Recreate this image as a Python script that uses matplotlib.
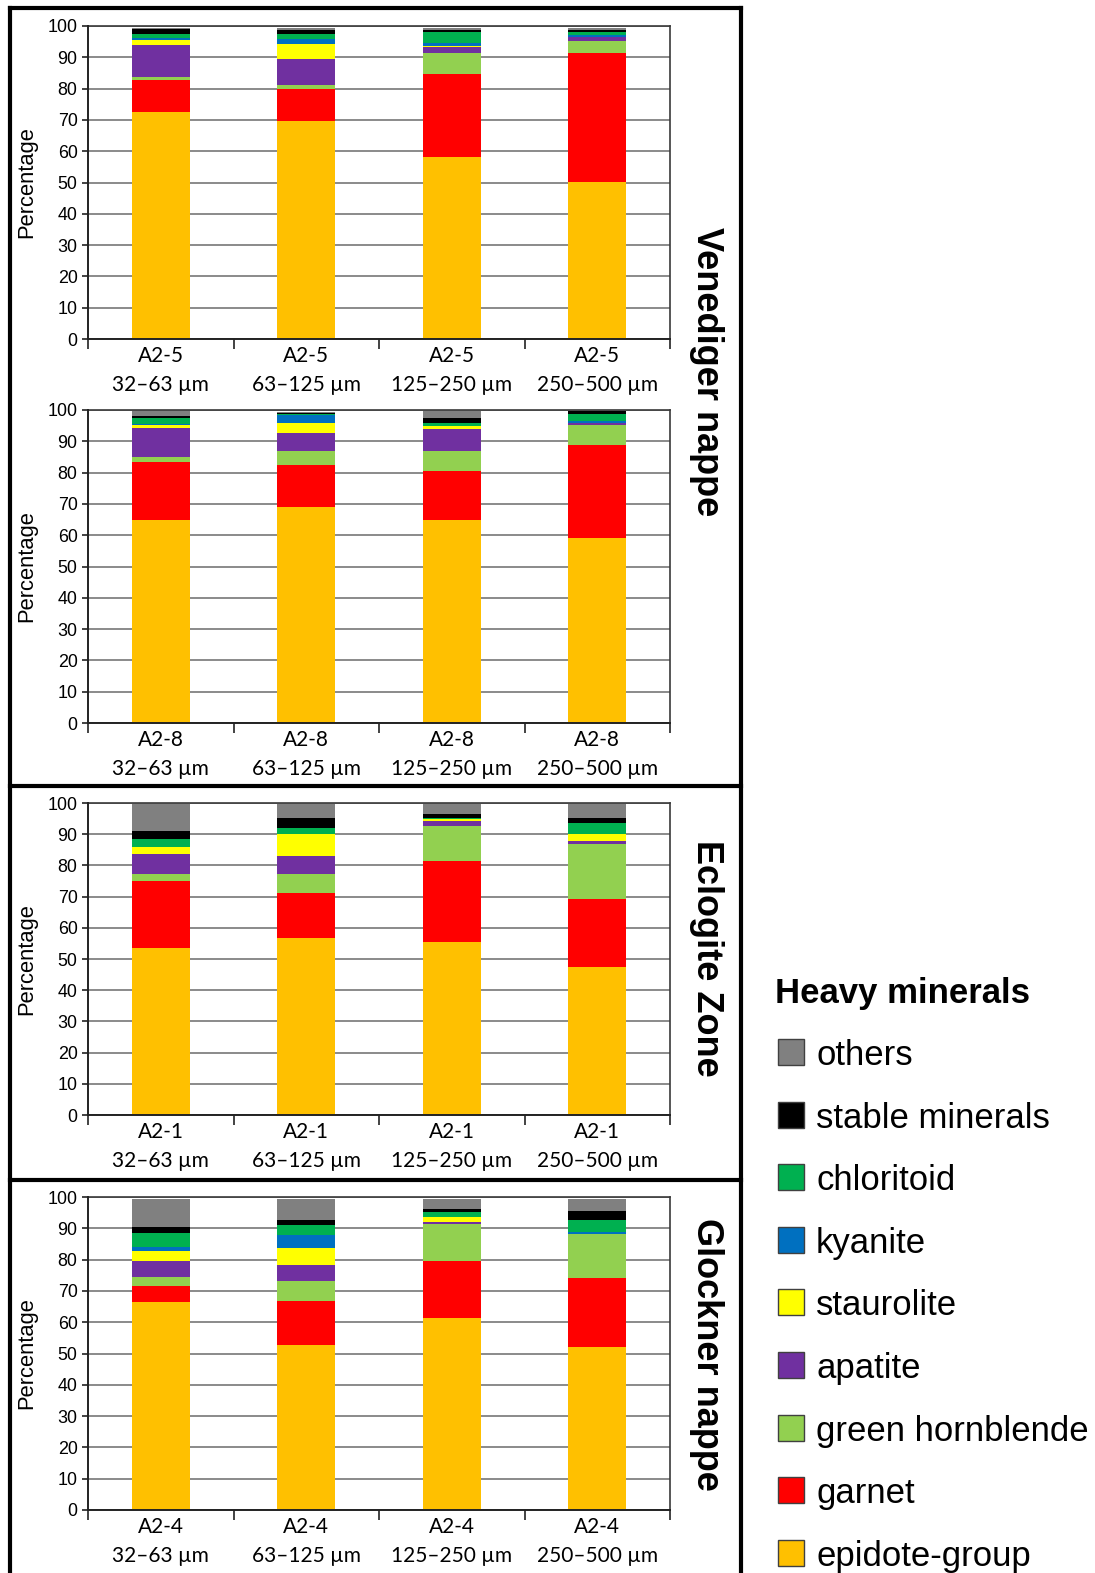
import matplotlib
matplotlib.use("Agg")
import matplotlib.pyplot as plt
from matplotlib.patches import Rectangle
from matplotlib.lines import Line2D
import numpy as np

W, H, DPI = 1095, 1573, 100

# ---- data -----------------------------------------------------------------
samples = ["A2-5", "A2-8", "A2-1", "A2-4"]
fractions = ["32–63 µm", "63–125 µm", "125–250 µm", "250–500 µm"]

# stacked from bottom to top; 16 values = 4 samples x 4 grain-size fractions
minerals = ["epidote-group", "garnet", "green hornblende", "apatite", "staurolite",
            "kyanite", "chloritoid", "stable minerals", "others"]
colors = ["#FFC000", "#FF0000", "#92D050", "#7030A0", "#FFFF00",
          "#0070C0", "#00B050", "#000000", "#808080"]

epidote_group = [72.5, 69.8, 58.3, 50.1, 64.7, 69.0, 64.9, 59.0,
                 53.6, 56.8, 55.4, 47.4, 66.5, 52.8, 61.4, 52.2]
garnet = [10.4, 10.0, 26.3, 41.4, 18.7, 13.3, 15.6, 29.7,
          21.3, 14.3, 26.1, 21.7, 5.0, 13.9, 18.3, 21.9]
green_hornblende = [0.9, 1.3, 6.9, 3.6, 1.6, 4.6, 6.3, 6.4,
                    2.3, 6.1, 11.2, 17.7, 2.9, 6.4, 11.6, 14.0]
apatite = [10.2, 8.4, 1.9, 1.4, 9.4, 5.9, 7.0, 0.8,
           6.4, 5.7, 1.6, 1.1, 5.3, 5.3, 0.6, 0.0]
staurolite = [1.5, 4.7, 0.1, 0.0, 0.7, 3.1, 1.0, 0.0,
              2.2, 7.3, 0.5, 2.3, 2.9, 5.3, 1.6, 0.0]
kyanite = [0.8, 1.7, 1.2, 0.5, 0.5, 2.4, 0.2, 0.6,
           0.0, 0.0, 0.0, 0.0, 1.4, 4.0, 0.0, 0.6]
chloritoid = [1.0, 1.6, 3.3, 1.1, 2.0, 0.3, 0.8, 2.1,
              2.8, 1.7, 0.5, 3.3, 4.6, 3.4, 1.6, 3.8]
stable_minerals = [1.6, 1.1, 0.8, 0.5, 0.5, 0.6, 1.8, 1.0,
                   2.3, 3.4, 1.3, 1.8, 1.9, 1.5, 1.0, 3.0]
others = [0.5, 0.8, 0.6, 0.8, 1.5, 0.3, 2.0, 0.0,
          8.7, 4.3, 3.0, 4.3, 9.0, 6.9, 3.4, 4.0]

series = [epidote_group, garnet, green_hornblende, apatite, staurolite,
          kyanite, chloritoid, stable_minerals, others]

units = ["Venediger nappe", "Eclogite Zone", "Glockner nappe"]
yticks = list(range(0, 101, 10))

# ---- figure ---------------------------------------------------------------
SANS = ["Liberation Sans", "DejaVu Sans"]
LABEL = ["Lato", "DejaVu Sans"]

fig = plt.figure(figsize=(W / DPI, H / DPI), dpi=DPI)
fig.patch.set_facecolor("white")


def px_axes(x0, y0, x1, y1):
    return fig.add_axes([x0 / W, 1 - y1 / H, (x1 - x0) / W, (y1 - y0) / H])


panel_rows = [(26, 339), (410, 723), (803, 1115), (1197, 1510)]
AX_L, AX_R = 88, 670
x = np.arange(len(fractions))

for p, (top, bot) in enumerate(panel_rows):
    ax = px_axes(AX_L, top, AX_R, bot)
    bottom = np.zeros(len(fractions))
    for vals, col in zip(series, colors):
        v = np.array(vals[p * 4:(p + 1) * 4])
        ax.bar(x, v, width=0.4, bottom=bottom, color=col, edgecolor="none", zorder=3)
        bottom += v
    ax.set_xlim(-0.5, 3.5)
    ax.set_ylim(0, 100)
    ax.set_yticks(yticks)
    ax.set_yticklabels([str(t) for t in yticks], family=SANS, fontsize=12.9)
    ax.tick_params(axis="y", length=4, width=1.2, pad=3.5, color="#222222")
    # category boundaries carry the tick marks, centres carry the labels
    ax.set_xticks(np.arange(-0.5, 4.0, 1.0))
    ax.set_xticklabels([])
    ax.set_xticks(x, minor=True)
    ax.set_xticklabels([f"{samples[p]}\n{fr}" for fr in fractions], minor=True,
                       family=LABEL, fontsize=15, linespacing=1.55)
    ax.tick_params(axis="x", which="major", length=7, width=1.2, color="#222222")
    ax.tick_params(axis="x", which="minor", length=0, pad=5)
    ax.yaxis.grid(True, color="#8a8a8a", linewidth=1.4, zorder=0)
    ax.set_axisbelow(True)
    for side in ("left", "bottom"):
        ax.spines[side].set_color("#222222")
        ax.spines[side].set_linewidth(1.4)
        ax.spines[side].set_zorder(4)
    for side in ("top", "right"):
        ax.spines[side].set_color("#3a3a3a")
        ax.spines[side].set_linewidth(1.2)
    fig.text(27 / W, 1 - (top + bot) / 2 / H, "Percentage", rotation=90,
             ha="center", va="center", family=SANS, fontsize=15.8)

# ---- outer frame and group labels ------------------------------------------
frame_kw = dict(color="black", linewidth=3.0, transform=fig.transFigure)
def fline(xs, ys):
    fig.add_artist(Line2D([v / W for v in xs], [1 - v / H for v in ys], **frame_kw))

fline([10, 10], [8, H + 5])
fline([741, 741], [8, H + 5])
fline([10, 741], [8, 8])
fline([10, 741], [786, 786])
fline([10, 741], [1180, 1180])

unit_centres = [372, 958, 1354]
for name, yc in zip(units, unit_centres):
    fig.text(706 / W, 1 - yc / H, name, rotation=-90, ha="center", va="center",
             family=SANS, fontsize=26, fontweight="bold")

# ---- legend ------------------------------------------------------------------
fig.text(775 / W, 1 - 993 / H, "Heavy minerals", ha="left", va="center",
         family=SANS, fontsize=25, fontweight="bold")
entry_y0, entry_dy, box = 1052, 62.6, 26
for i, (name, col) in enumerate(zip(minerals[::-1], colors[::-1])):
    yc = entry_y0 + i * entry_dy
    fig.add_artist(Rectangle((778 / W, 1 - (yc + box / 2) / H), box / W, box / H,
                             facecolor=col, edgecolor="#404040", linewidth=1.0,
                             transform=fig.transFigure))
    fig.text(816 / W, 1 - yc / H, name, ha="left", va="center_baseline",
             family=SANS, fontsize=25)

fig.savefig("out.png", dpi=DPI, facecolor="white")
